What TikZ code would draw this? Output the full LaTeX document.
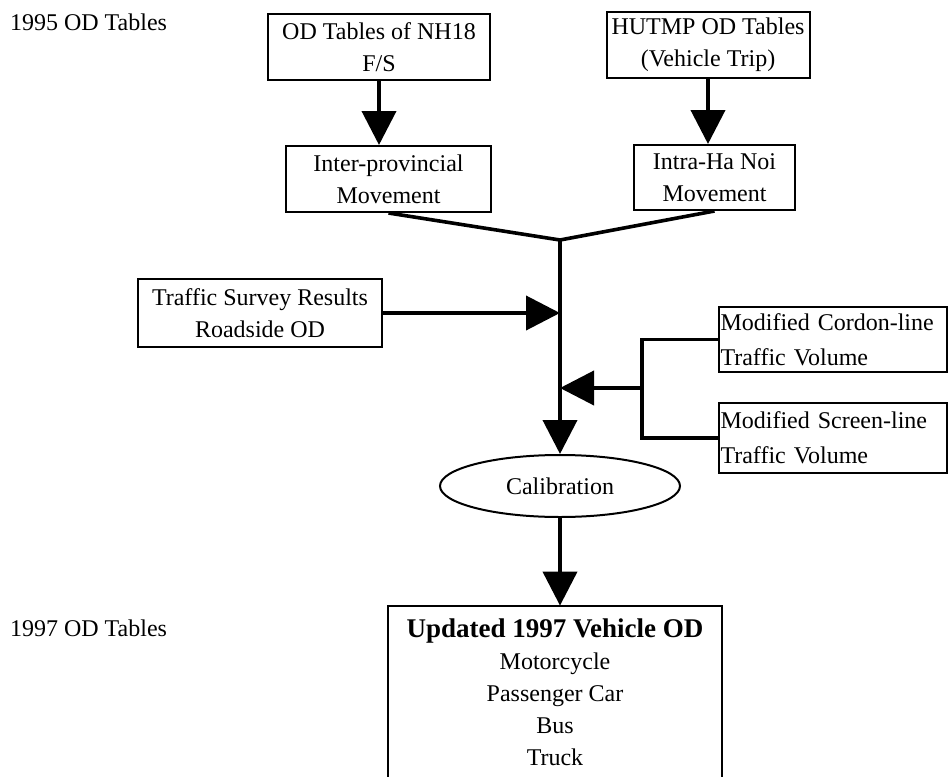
\documentclass[tikz,border=0pt]{standalone}
\usepackage{fontspec}
\setmainfont{Liberation Serif}
\usetikzlibrary{shapes.geometric,arrows.meta}
\begin{document}
\begin{tikzpicture}[x=0.5pt, y=-0.5pt,
    every node/.style={font=\fontsize{12}{16}\selectfont},
    box/.style={draw, line width=1pt, align=center, inner sep=0pt},
    sidebox/.style={draw, line width=1pt, align=left, inner sep=0pt, inner xsep=1pt,
      font=\fontsize{12}{17.5}\selectfont},
    flow/.style={line width=2pt, -{Triangle[length=17pt, width=17pt]}},
    link/.style={line width=1.8pt}]
      \useasboundingbox (0,0) rectangle (949,777);
      %
      \node[anchor=west] (y95) at (3,22) {1995 OD Tables};
      \node[anchor=west] (y97) at (3,628) {1997 OD Tables};
      %
      \node[box, minimum width=111pt, minimum height=33pt] (nh) at (379,47) {OD Tables of NH18\\F/S};
      \node[box, minimum width=101.5pt, minimum height=33pt] (hutmp) at (708,45) {HUTMP OD Tables\\(Vehicle Trip)};
      \node[box, minimum width=102.5pt, minimum height=33pt] (inter) at (388.5,179) {Inter-provincial\\Movement};
      \node[box, minimum width=80.5pt, minimum height=32.5pt] (intra) at (714.5,177.5) {Intra-Ha Noi\\Movement};
      \node[box, minimum width=122pt, minimum height=34pt] (survey) at (260,313) {Traffic Survey Results\\Roadside OD};
      \node[sidebox, text width=112pt, minimum height=32.5pt] (cordon) at (832.5,339.5) {Modified Cordon-line\\Traffic Volume};
      \node[sidebox, text width=112pt, minimum height=35pt] (screen) at (832.5,438) {Modified Screen-line\\Traffic Volume};
      \node[ellipse, draw, line width=1pt, minimum width=120pt, minimum height=31pt, inner sep=0pt] (calib) at (560,486) {Calibration};
      \node[align=center, minimum width=167pt, minimum height=86pt, inner sep=0pt] (upd) at (555,692)
          {{\fontsize{13.5}{16}\selectfont\bfseries Updated 1997 Vehicle OD}\\Motorcycle\\Passenger Car\\Bus\\Truck};
      \draw[line width=1pt] (upd.south west) -- (upd.north west) -- (upd.north east) -- (upd.south east);
      %
      \coordinate (join) at (560,240);
      \coordinate (brk) at (642,388);
      %
      \draw[flow] (nh.south) -- (nh.south |- inter.north);
      \draw[flow] (hutmp.south) -- (hutmp.south |- intra.north);
      \draw[link] (inter.south) -- (join);
      \draw[link] (intra.south) -- (join);
      \draw[flow] (join) -- (calib.north);
      \draw[flow] (survey.east) -- (survey.east -| join);
      \draw[line width=1.8pt] (cordon.west) -| (brk) |- (screen.west);
      \draw[flow] (brk) -- (brk -| join);
      \draw[flow] (calib.south) -- (calib.south |- upd.north);
      %
\end{tikzpicture}
\end{document}
